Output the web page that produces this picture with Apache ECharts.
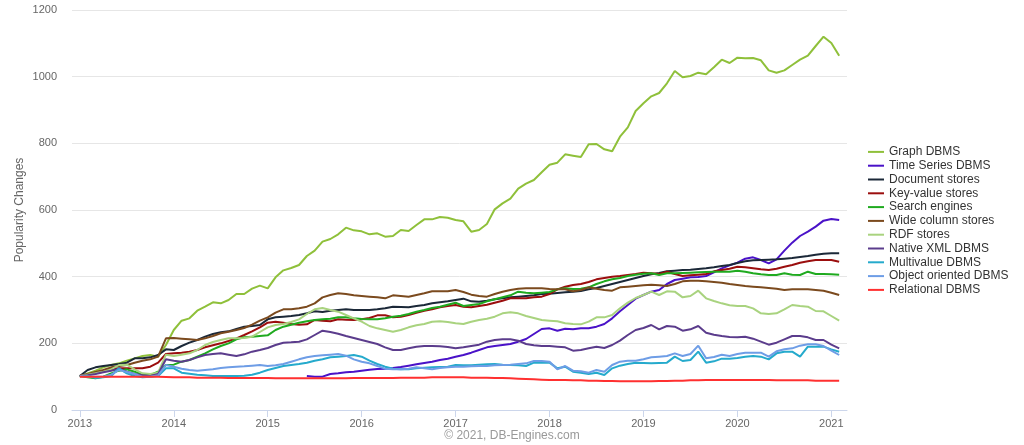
<!DOCTYPE html>
<html>
<head>
<meta charset="utf-8">
<script src="https://cdn.jsdelivr.net/npm/echarts@6/dist/echarts.min.js"></script>
<style>
html,body{margin:0;padding:0;background:#fff;}
#chart{width:1024px;height:445px;}
</style>
</head>
<body>
<div id="chart"></div>
<script>
// Monthly values, Jan 2013 .. Feb 2021 (98 months)
const yearLabels = ['2013','2014','2015','2016','2017','2018','2019','2020','2021'];
const seriesNames = ['Graph DBMS','Time Series DBMS','Document stores','Key-value stores','Search engines','Wide column stores','RDF stores','Native XML DBMS','Multivalue DBMS','Object oriented DBMS','Relational DBMS'];

const graphDBMS = [
  100,110,118,128,135,140,148,155,162,165,160,195,
  240,268,275,298,310,323,320,330,348,348,364,373,
  365,398,419,426,435,462,478,505,513,527,547,539,
  536,527,530,520,522,540,537,555,572,572,579,577,
  570,566,535,540,558,602,620,634,664,679,690,713,
  736,742,767,763,759,797,798,782,776,820,848,897,
  920,941,951,980,1017,998,1002,1012,1007,1028,1051,1041,
  1057,1055,1056,1049,1019,1012,1019,1035,1051,1063,1092,1120,
  1101,1063];
const timeSeriesDBMS = [
  null,null,null,null,null,null,null,null,null,null,null,null,
  null,null,null,null,null,null,null,null,null,null,null,null,
  null,null,null,null,null,102,100,100,108,110,113,115,
  118,121,123,124,126,129,133,137,141,145,150,154,
  160,165,172,180,188,192,195,198,205,213,228,243,
  245,238,244,242,245,245,250,258,275,296,315,334,
  345,355,360,378,390,394,398,399,402,413,425,434,
  442,454,458,450,440,452,478,502,522,535,550,568,
  573,570];
const documentStores = [
  102,120,128,132,135,138,142,155,155,158,165,182,
  180,192,202,210,220,228,233,236,243,250,252,255,
  272,278,280,282,285,290,296,294,298,300,302,300,
  300,300,302,305,310,309,308,312,315,320,323,326,
  330,334,326,325,328,332,335,338,340,342,344,348,
  349,351,353,355,357,362,366,372,378,384,390,396,
  402,407,411,416,418,420,421,423,425,428,432,435,
  441,446,449,450,451,452,454,456,459,462,466,469,
  470,470];
const keyValueStores = [
  102,106,110,116,122,125,125,125,125,130,142,168,
  170,172,175,180,188,194,200,207,215,225,236,248,
  262,265,262,258,256,257,270,268,266,272,271,270,
  272,276,284,284,278,280,285,292,298,302,308,312,
  315,310,308,312,316,322,328,335,335,335,338,340,
  348,362,370,375,378,384,392,396,400,402,405,408,
  412,410,408,415,408,402,404,406,408,416,420,424,
  430,428,425,422,420,424,430,435,442,446,450,450,
  450,445];
const searchEngines = [
  102,98,95,100,110,118,122,115,106,105,115,135,
  136,145,150,160,170,182,192,200,212,218,220,222,
  224,240,250,256,262,266,270,272,274,278,278,275,
  273,272,272,275,280,283,288,295,300,306,310,316,
  322,312,315,318,326,332,338,344,355,352,350,352,
  354,362,365,363,364,368,378,386,392,396,402,406,
  409,410,405,410,410,411,412,413,414,415,415,415,
  418,415,410,407,405,405,410,406,405,415,408,408,
  407,406];
const wideColumnStores = [
  102,108,114,120,128,132,135,142,148,152,160,215,
  216,214,212,210,215,222,230,235,240,246,256,268,
  278,292,302,302,305,310,320,338,345,350,348,344,
  342,340,338,335,344,342,340,345,350,356,356,356,
  360,354,346,342,340,348,355,360,364,365,365,365,
  363,362,362,356,360,368,364,360,358,368,370,372,
  374,376,374,372,378,386,388,388,386,384,382,378,
  375,372,370,368,366,364,360,362,362,362,360,358,
  352,345];
const rdfStores = [
  102,106,110,115,122,135,136,122,110,108,112,166,
  162,166,170,180,195,204,210,215,215,216,220,234,
  248,255,258,264,272,288,302,306,300,295,285,275,
  265,252,245,240,235,240,248,254,258,265,266,264,
  260,258,265,270,274,280,290,293,290,282,276,270,
  268,266,260,258,257,265,278,278,285,305,322,336,
  345,355,345,356,355,338,342,358,335,327,320,314,
  312,312,305,290,288,290,302,315,312,310,297,296,
  282,268];
const nativeXmlDBMS = [
  102,104,108,113,118,124,115,108,104,102,108,152,
  148,145,150,158,165,168,170,166,162,167,175,180,
  186,195,202,203,205,212,225,238,234,229,222,216,
  210,204,198,188,180,180,185,190,192,192,191,189,
  185,188,192,196,205,210,212,212,208,198,194,192,
  192,190,188,178,180,185,190,186,195,208,225,240,
  246,255,242,252,250,238,242,252,232,226,222,219,
  218,220,214,205,196,202,212,222,222,218,210,210,
  196,185];
const multivalueDBMS = [
  102,102,96,98,102,125,110,102,98,100,102,125,
  125,112,109,106,104,102,102,102,102,103,106,112,
  120,126,132,135,138,142,148,152,158,160,162,165,
  160,148,138,130,124,122,122,125,127,128,129,130,
  135,134,134,136,137,138,136,135,134,132,142,142,
  142,125,130,115,112,108,112,105,125,133,138,142,
  141,140,141,142,160,147,150,175,142,146,154,154,
  156,160,162,160,152,170,175,175,160,190,190,190,
  182,175];
const objectOrientedDBMS = [
  102,100,100,100,106,120,114,108,100,100,104,135,
  130,124,120,118,120,122,126,128,130,131,133,135,
  132,134,138,145,152,158,162,164,166,168,163,152,
  145,140,132,124,122,122,124,128,125,122,126,128,
  130,130,131,132,132,134,135,136,138,140,147,147,
  145,122,132,118,116,112,120,115,135,145,148,148,
  152,158,160,162,170,162,168,193,155,159,166,162,
  168,172,172,172,160,176,182,185,193,197,197,192,
  178,165];
const relationalDBMS = [
  100,100,100,100,100,100,100,100,100,100,100,99,
  98,98,98,97,97,97,97,96,96,96,96,96,
  96,95,95,95,95,95,95,95,95,95,95,96,
  96,96,96,96,96,97,97,97,97,98,98,98,
  98,98,97,97,97,96,96,95,94,93,92,91,
  90,90,90,89,89,88,88,87,87,86,86,86,
  86,86,87,87,88,88,89,89,90,90,90,90,
  90,90,90,90,90,89,89,89,89,89,88,88,
  88,88];

const allData = [graphDBMS,timeSeriesDBMS,documentStores,keyValueStores,searchEngines,wideColumnStores,rdfStores,nativeXmlDBMS,multivalueDBMS,objectOrientedDBMS,relationalDBMS];
const colors = ['#8fc03a','#4a12c8','#1b2838','#9b0e0e','#1faa1f','#7b4a1e','#a9d37f','#5b3c8c','#25aacc','#6e9de6','#ff3030'];

const yearTicks = yearLabels.map((y, i) => i * 12);
const font = "'Liberation Sans', Arial, sans-serif";

const chart = echarts.init(document.getElementById('chart'), null, {renderer: 'canvas'});
chart.setOption({
  animation: false,
  backgroundColor: '#ffffff',
  color: colors,
  textStyle: {fontFamily: font},
  grid: {left: 72, right: 177, top: 10, bottom: 35},
  legend: {
    orient: 'vertical',
    left: 868,
    top: 145,
    padding: 0,
    itemGap: 0,
    itemWidth: 16,
    itemHeight: 2,
    icon: 'rect',
    data: seriesNames,
    textStyle: {color: '#333', fontSize: 12, lineHeight: 13.8, fontFamily: font},
    selectedMode: false
  },
  xAxis: {
    type: 'value',
    min: -1,
    max: 98,
    splitLine: {show: false},
    axisLine: {show: true, lineStyle: {color: '#ccd6eb', width: 1}},
    axisTick: {show: true, length: 7, lineStyle: {color: '#ccd6eb'}, customValues: yearTicks},
    axisLabel: {
      color: '#666', fontSize: 11, margin: 8, fontFamily: font,
      customValues: yearTicks,
      formatter: v => yearLabels[Math.round(v / 12)]
    }
  },
  yAxis: {
    type: 'value',
    min: 0,
    max: 1200,
    interval: 200,
    name: 'Popularity Changes',
    nameLocation: 'middle',
    nameGap: 46,
    nameMoveOverlap: false,
    nameTextStyle: {color: '#666', fontSize: 12, fontFamily: font},
    axisLine: {show: false},
    axisTick: {show: false},
    axisLabel: {color: '#666', fontSize: 11, margin: 15, fontFamily: font, formatter: v => String(v)},
    splitLine: {lineStyle: {color: '#e6e6e6', width: 1}}
  },
  graphic: [{
    type: 'text',
    left: 'center',
    top: 430,
    style: {text: '\u00a9 2021, DB-Engines.com', fill: '#999', fontSize: 12, fontFamily: font}
  }],
  series: seriesNames.map((name, i) => ({
    name: name,
    type: 'line',
    showSymbol: false,
    symbol: 'none',
    connectNulls: false,
    lineStyle: {width: 2, color: colors[i]},
    itemStyle: {color: colors[i]},
    emphasis: {disabled: true},
    data: allData[i].map((v, m) => [m, v])
  }))
});
</script>
</body>
</html>
